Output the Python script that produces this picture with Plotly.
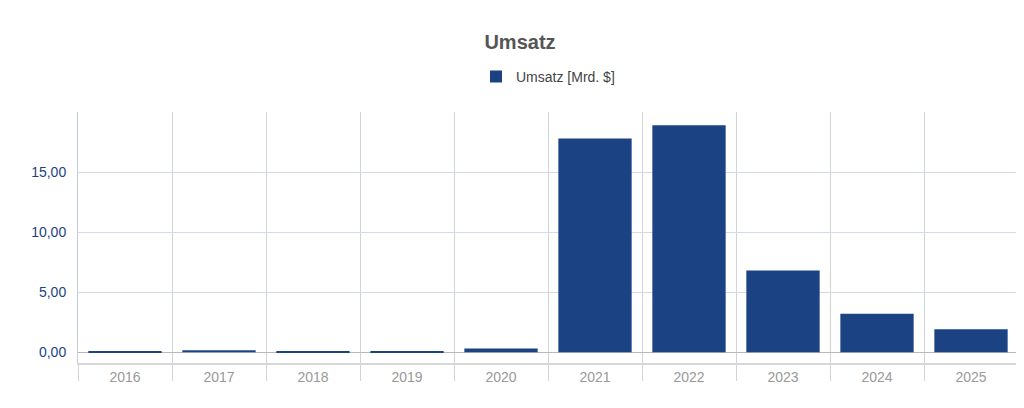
import plotly.graph_objects as go

years = ["2016","2017","2018","2019","2020","2021","2022","2023","2024","2025"]
umsatz = [0.08, 0.17, 0.1, 0.04, 0.3, 17.8, 18.9, 6.8, 3.2, 1.9]
series_name = "Umsatz [Mrd. $]"
title = "Umsatz"

fig = go.Figure(go.Bar(x=years, y=umsatz, name=series_name, width=0.78,
                       marker=dict(color="#1b4384", line=dict(width=0))))
fig.update_layout(
    width=1024, height=408, plot_bgcolor="white", paper_bgcolor="white",
    margin=dict(l=70, r=14, t=104, b=53),
    font=dict(family="Liberation Sans, Arial, sans-serif"),
    title=dict(text="<b>" + title + "</b>", x=0.5, xanchor="center", y=0.935,
               font=dict(size=20, color="#555555")),
    showlegend=True,
    legend=dict(orientation="h", x=0.5, xanchor="center", y=1.14, yanchor="middle",
                font=dict(size=14, color="#444444")),
    bargap=0.22,
)
fig.update_xaxes(type="category", tickson="boundaries", showgrid=True, gridcolor="#cfd3da",
                 ticks="outside", ticklen=16, tickcolor="#cfd3da",
                 showline=True, linecolor="#d8d8d8", linewidth=2,
                 tickfont=dict(size=14, color="#999999"))
fig.update_yaxes(range=[-0.9, 20], tickvals=[0, 5, 10, 15], ticktext=["0,00","5,00","10,00","15,00"],
                 showgrid=True, gridcolor="#d3dbea", zeroline=True, zerolinecolor="#b8b8b8",
                 zerolinewidth=1, showline=True, linecolor="#c4cde0", linewidth=1,
                 ticks="outside", ticklen=8, tickcolor="white",
                 tickfont=dict(size=14, color="#1b4384"))
fig.write_html("out.html")
